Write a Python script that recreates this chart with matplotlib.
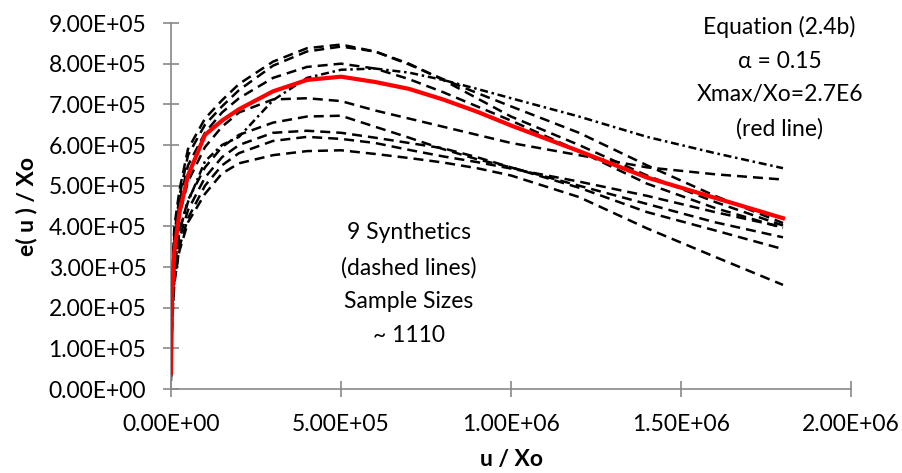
import numpy as np
import matplotlib
matplotlib.use("Agg")
import matplotlib.pyplot as plt
from matplotlib.ticker import FuncFormatter

plt.rcParams['font.family'] = ['Lato', 'DejaVu Sans']

# u / Xo grid (in units of 1E5)
u = [0, 0.03, 0.1, 0.25, 0.5, 1.0, 1.5, 2.0, 3.0, 4.0, 5.0, 6.0, 7.0, 8.0, 9.0, 10.0, 12.0, 14.0, 16.0, 18.0]

# Equation (2.4b), e(u)/Xo in units of 1E5
eq_24b = [0.4, 2.3, 3.4, 4.35, 5.25, 6.25, 6.6, 6.88, 7.32, 7.6, 7.68, 7.55, 7.38, 7.12, 6.82, 6.48, 5.85, 5.2, 4.7, 4.2]

# 9 synthetics, same units
syn_1 = [1.0, 2.8, 4.0, 4.9, 5.9, 6.65, 7.1, 7.5, 8.05, 8.38, 8.47, 8.3, 7.98, 7.62, 7.28, 6.95, 6.3, 5.5, 4.75, 4.08]
syn_2 = [0.9, 2.6, 3.8, 4.75, 5.75, 6.5, 6.95, 7.35, 7.95, 8.3, 8.42, 8.3, 8.0, 7.6, 7.15, 6.7, 6.0, 5.25, 4.6, 4.02]
syn_3 = [0.7, 2.4, 3.6, 4.6, 5.5, 6.3, 6.8, 7.15, 7.65, 7.92, 8.0, 7.88, 7.62, 7.3, 6.95, 6.6, 5.85, 5.05, 4.45, 3.96]
syn_4 = [0.5, 2.0, 3.0, 3.9, 4.6, 5.6, 6.0, 6.2, 7.1, 7.65, 7.85, 7.88, 7.78, 7.6, 7.38, 7.15, 6.7, 6.2, 5.8, 5.43]
syn_5 = [0.5, 2.2, 3.3, 4.3, 5.1, 5.95, 6.45, 6.8, 7.12, 7.15, 7.08, 6.85, 6.65, 6.45, 6.25, 6.05, 5.75, 5.45, 5.28, 5.15]
syn_6 = [0.4, 2.0, 3.0, 3.9, 4.65, 5.45, 5.95, 6.25, 6.55, 6.7, 6.72, 6.45, 6.18, 5.9, 5.65, 5.45, 5.0, 4.55, 4.1, 3.73]
syn_7 = [0.3, 1.8, 2.8, 3.7, 4.4, 5.2, 5.7, 6.0, 6.3, 6.35, 6.3, 6.18, 6.05, 5.92, 5.7, 5.45, 4.95, 4.35, 3.9, 3.44]
syn_8 = [0.3, 1.7, 2.6, 3.5, 4.2, 5.0, 5.5, 5.8, 6.1, 6.2, 6.15, 6.05, 5.88, 5.72, 5.58, 5.42, 5.1, 4.75, 4.35, 3.98]
syn_9 = [0.2, 1.5, 2.7, 3.4, 4.1, 4.8, 5.3, 5.55, 5.75, 5.85, 5.87, 5.78, 5.68, 5.57, 5.43, 5.25, 4.72, 3.95, 3.25, 2.56]

x_ticks = [0, 5e5, 1e6, 1.5e6, 2e6]
y_ticks = [0, 1e5, 2e5, 3e5, 4e5, 5e5, 6e5, 7e5, 8e5, 9e5]

x = np.array(u) * 1e5

fig = plt.figure(figsize=(9.02, 4.73), dpi=100)
ax = fig.add_axes([171 / 902, 1 - 389 / 473, 680 / 902, 366 / 473])

for s in [syn_1, syn_2, syn_3, syn_5, syn_6, syn_7, syn_8, syn_9]:
    ax.plot(x, np.array(s) * 1e5, color='black', linewidth=1.8, linestyle=(0, (4, 2.4)))
ax.plot(x, np.array(syn_4) * 1e5, color='black', linewidth=1.8, linestyle=(0, (3.2, 1.5, 1, 1.5)))
ax.plot(x, np.array(eq_24b) * 1e5, color='#ff0000', linewidth=3, zorder=5)

ax.set_xlim(0, 2e6)
ax.set_ylim(0, 9e5)
ax.set_xticks(x_ticks)
ax.set_yticks(y_ticks)
fmt = FuncFormatter(lambda v, p: f"{v:.2E}")
ax.xaxis.set_major_formatter(fmt)
ax.yaxis.set_major_formatter(fmt)

for side in ['top', 'right']:
    ax.spines[side].set_visible(False)
for side in ['left', 'bottom']:
    ax.spines[side].set_color('#898989')
    ax.spines[side].set_linewidth(1.2)
ax.tick_params(direction='inout', length=11.5, width=1.2, color='#898989',
               labelsize=16.5, pad=12, labelcolor='black')

ax.set_xlabel('u / Xo', fontsize=16.5, fontweight='bold', labelpad=10)
ax.set_ylabel('e( u ) / Xo', fontsize=16.5, fontweight='bold', labelpad=8)

ax.text(0.895, 1.02, 'Equation (2.4b)\nα = 0.15\nXmax/Xo=2.7E6\n(red line)', transform=ax.transAxes,
        ha='center', va='top', fontsize=16.5, linespacing=1.75)
ax.text(0.35, 0.455, '9 Synthetics\n(dashed lines)\nSample Sizes\n~ 1110', transform=ax.transAxes,
        ha='center', va='top', fontsize=16.5, linespacing=1.75)

plt.savefig('out.png', dpi=100)
